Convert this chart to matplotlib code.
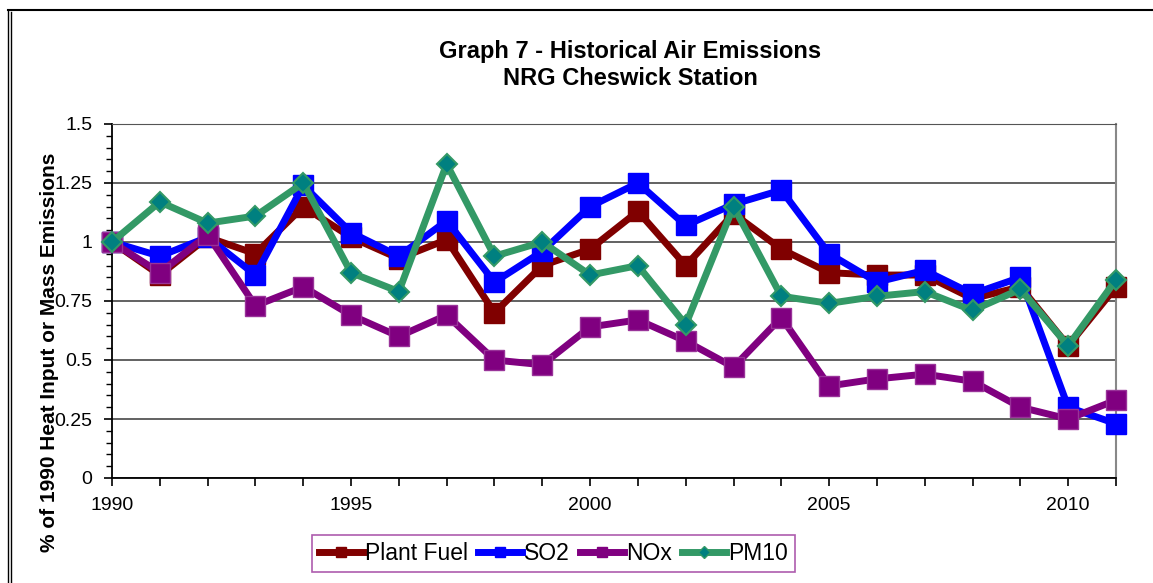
import numpy as np
import matplotlib.pyplot as plt
from matplotlib.ticker import MultipleLocator
from matplotlib.lines import Line2D

plt.rcParams['font.family'] = ['Liberation Sans', 'DejaVu Sans']

years = list(range(1990, 2012))

plant_fuel = [1.00, 0.86, 1.02, 0.95, 1.15, 1.02, 0.93, 1.01, 0.70, 0.90, 0.97,
              1.13, 0.90, 1.12, 0.97, 0.87, 0.86, 0.86, 0.76, 0.81, 0.56, 0.81]
so2 = [1.00, 0.94, 1.02, 0.86, 1.24, 1.04, 0.94, 1.09, 0.83, 0.96, 1.15,
       1.25, 1.07, 1.16, 1.22, 0.95, 0.83, 0.88, 0.78, 0.85, 0.30, 0.23]
nox = [1.00, 0.87, 1.03, 0.73, 0.81, 0.69, 0.60, 0.69, 0.50, 0.48, 0.64,
       0.67, 0.58, 0.47, 0.68, 0.39, 0.42, 0.44, 0.41, 0.30, 0.25, 0.33]
pm10 = [1.00, 1.17, 1.08, 1.11, 1.25, 0.87, 0.79, 1.33, 0.94, 1.00, 0.86,
        0.90, 0.65, 1.15, 0.77, 0.74, 0.77, 0.79, 0.71, 0.80, 0.56, 0.84]

series_names = ['Plant Fuel', 'SO2', 'NOx', 'PM10']
y_ticks = [0, 0.25, 0.5, 0.75, 1, 1.25, 1.5]
y_labels = ['0', '0.25', '0.5', '0.75', '1', '1.25', '1.5']

W, H = 1153, 583
fig = plt.figure(figsize=(W/100, H/100), dpi=100)
ax = fig.add_axes([112/W, 1-478/H, (1116-112)/W, (478-124)/H])

# lineas
ax.plot(years, plant_fuel, color='#800000', lw=5, marker='s', ms=14,
        mfc='#800000', mec='#800000', label='Plant Fuel', zorder=3, clip_on=False)
ax.plot(years, so2, color='#0000ff', lw=5, marker='s', ms=14,
        mfc='#0000ff', mec='#0000ff', label='SO2', zorder=4, clip_on=False)
ax.plot(years, nox, color='#800080', lw=5, marker='s', ms=14,
        mfc='#800080', mec='#993399', label='NOx', zorder=5, clip_on=False)
ax.plot(years, pm10, color='#339966', lw=5, marker='D', ms=10,
        mfc='#008080', mec='#339966', mew=1.5, label='PM10', zorder=6, clip_on=False)

ax.set_xlim(1990, 2011)
ax.set_ylim(0, 1.5)
ax.set_xticks(years)
ax.set_xticklabels([str(y) if y % 5 == 0 else '' for y in years])
ax.set_yticks(y_ticks)
ax.set_yticklabels(y_labels)
ax.yaxis.set_minor_locator(MultipleLocator(0.05))
ax.tick_params(axis='both', which='major', direction='out', length=6, width=1.2,
               labelsize=14, color='black')
ax.tick_params(axis='y', which='minor', direction='out', length=4, width=1)
ax.tick_params(axis='x', pad=8)
ax.tick_params(axis='y', pad=8)

ax.grid(axis='y', color='#555555', lw=1.3)
ax.set_axisbelow(True)
for s in ['left', 'bottom']:
    ax.spines[s].set_color('black')
    ax.spines[s].set_linewidth(1.3)
ax.spines['top'].set_color('#555555')
ax.spines['right'].set_color('#888888')
ax.spines['right'].set_linewidth(1.5)

fig.text(630/W, 1-58/H, 'Graph 7 - Historical Air Emissions', ha='center', va='baseline',
         fontsize=17, fontweight='bold')
fig.text(630/W, 1-85/H, 'NRG Cheswick Station', ha='center', va='baseline',
         fontsize=17, fontweight='bold')
# en el original la etiqueta se monta sobre los numeros del eje
fig.text(50/W, 1-352/H, '% of 1990 Heat Input or Mass Emissions', rotation=90,
         ha='center', va='center', fontsize=15, fontweight='bold')

# leyenda
handles = [
    Line2D([], [], color='#800000', lw=5, marker='s', ms=7, mfc='#800000', mec='#800000'),
    Line2D([], [], color='#0000ff', lw=5, marker='s', ms=7, mfc='#0000ff', mec='#0000ff'),
    Line2D([], [], color='#800080', lw=5, marker='s', ms=7, mfc='#800080', mec='#800080'),
    Line2D([], [], color='#339966', lw=5, marker='D', ms=6, mfc='#008080', mec='#339966'),
]
leg = fig.legend(handles, series_names, loc='center', bbox_to_anchor=(553.5/W, 1-553.5/H),
                 ncol=4, fontsize=16.5, frameon=True, fancybox=False,
                 handlelength=1.9, handletextpad=0.1, columnspacing=0.45,
                 borderpad=0.3, borderaxespad=0)
leg.get_frame().set_edgecolor('#993399')
leg.get_frame().set_linewidth(1.2)

# marco de la figura
fig.add_artist(Line2D([8/W, 8/W], [0, 1-10/H], color='black', lw=1, transform=fig.transFigure))
fig.add_artist(Line2D([11/W, 11/W], [0, 1-12/H], color='black', lw=1, transform=fig.transFigure))
fig.add_artist(Line2D([8/W, 1], [1-10/H, 1-10/H], color='black', lw=1.5, transform=fig.transFigure))

fig.savefig('out.png', dpi=100)
